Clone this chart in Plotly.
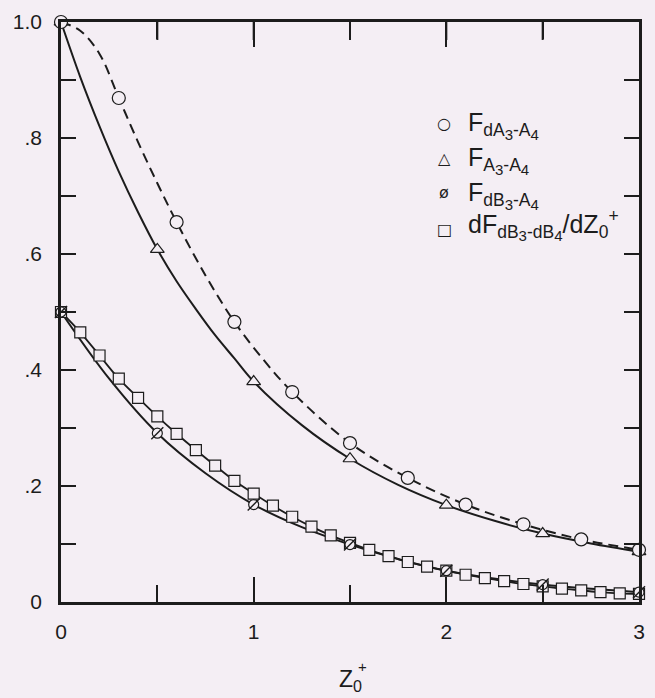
import plotly.graph_objects as go

# ---------------- data ----------------
# F_dA3-A4 (open circles, dashed curve)
circ_x = [0, 0.3, 0.6, 0.9, 1.2, 1.5, 1.8, 2.1, 2.4, 2.7, 3.0]
circ_y = [1.0, 0.869, 0.655, 0.483, 0.362, 0.274, 0.214, 0.168, 0.134, 0.108, 0.090]
dash_x = [0, 0.1, 0.2, 0.3, 0.4, 0.5, 0.6, 0.75, 0.9, 1.05, 1.2, 1.5, 1.8, 2.1, 2.4, 2.7, 3.0]
dash_y = [1.0, 0.985, 0.945, 0.869, 0.793, 0.722, 0.655, 0.563, 0.483, 0.418, 0.362,
          0.274, 0.214, 0.168, 0.134, 0.108, 0.090]

# F_A3-A4 (open triangles, upper solid curve)
tri_x = [0, 0.5, 1.0, 1.5, 2.0, 2.5, 3.0]
tri_y = [1.0, 0.608, 0.380, 0.247, 0.167, 0.118, 0.087]
up_x = [0, 0.1, 0.2, 0.3, 0.4, 0.5, 0.6, 0.7, 0.8, 0.9, 1.0, 1.25, 1.5, 1.75, 2.0, 2.25, 2.5, 2.75, 3.0]
up_y = [1.0, 0.905, 0.820, 0.742, 0.672, 0.608, 0.553, 0.505, 0.460, 0.420, 0.380,
        0.305, 0.247, 0.202, 0.167, 0.140, 0.118, 0.101, 0.087]

# F_dB3-A4 (slashed circles, lower solid curve)
phi_x = [0, 0.5, 1.0, 1.5, 2.0, 2.5, 3.0]
phi_y = [0.5, 0.291, 0.168, 0.099, 0.054, 0.030, 0.017]
low_x = [0, 0.25, 0.5, 0.75, 1.0, 1.25, 1.5, 1.75, 2.0, 2.5, 3.0]
low_y = [0.5, 0.385, 0.291, 0.222, 0.168, 0.129, 0.099, 0.074, 0.054, 0.030, 0.017]

# dF_dB3-dB4/dZ0+ (open squares)
sq_x = [round(0.1 * i, 1) for i in range(31)]
sq_y = [0.500, 0.465, 0.425, 0.385, 0.352, 0.320, 0.290, 0.262, 0.235, 0.209,
        0.187, 0.166, 0.147, 0.130, 0.115, 0.102, 0.090, 0.079, 0.069, 0.061,
        0.054, 0.047, 0.041, 0.036, 0.031, 0.027, 0.023, 0.020, 0.017, 0.015, 0.014]

y_tickvals = [0, 0.2, 0.4, 0.6, 0.8, 1.0]
y_ticktext = ["0", ".2", ".4", ".6", ".8", "1.0"]
x_tickvals = [0, 1, 2, 3]
x_ticktext = ["0", "1", "2", "3"]
top_tickvals = [0.5, 1.0, 1.5, 2.0, 2.5]

S = "<span style='font-size:15px'>{}</span>"
legend_labels = [
    ("○", "F<sub>dA<sub>" + S.format("3") + "</sub>-A<sub>" + S.format("4") + "</sub></sub>"),
    ("△", "F<sub>A<sub>" + S.format("3") + "</sub>-A<sub>" + S.format("4") + "</sub></sub>"),
    ("ø", "F<sub>dB<sub>" + S.format("3") + "</sub>-A<sub>" + S.format("4") + "</sub></sub>"),
    ("□", "dF<sub>dB<sub>" + S.format("3") + "</sub>-dB<sub>" + S.format("4") + "</sub></sub>/dZ<sub>0</sub><sup>+</sup>"),
]

# ---------------- styling ----------------
BG = "#f4eef4"
INK = "#1c1c1c"
FONT = "Liberation Sans, Arial, sans-serif"

fig = go.Figure()

# curves
fig.add_trace(go.Scatter(x=dash_x, y=dash_y, mode="lines", line_shape="spline",
                         line=dict(color=INK, width=2, dash="10px,6px"), showlegend=False))
fig.add_trace(go.Scatter(x=up_x, y=up_y, mode="lines", line_shape="spline",
                         line=dict(color=INK, width=2), showlegend=False))
fig.add_trace(go.Scatter(x=low_x, y=low_y, mode="lines", line_shape="spline",
                         line=dict(color=INK, width=2), showlegend=False))
fig.add_trace(go.Scatter(x=sq_x, y=sq_y, mode="lines", line_shape="spline",
                         line=dict(color=INK, width=1.8), showlegend=False))

# markers
mk_line = dict(color=INK, width=1.2)
fig.add_trace(go.Scatter(x=sq_x, y=sq_y, mode="markers", cliponaxis=False,
                         marker=dict(symbol="square", size=11, color=BG, line=mk_line),
                         showlegend=False))
fig.add_trace(go.Scatter(x=phi_x, y=phi_y, mode="markers", cliponaxis=False,
                         marker=dict(symbol="circle", size=10, color=BG, line=mk_line),
                         showlegend=False))
fig.add_trace(go.Scatter(x=phi_x, y=phi_y, mode="markers", cliponaxis=False,
                         marker=dict(symbol="line-ne", size=12, line=dict(color=INK, width=1.4)),
                         showlegend=False))
fig.add_trace(go.Scatter(x=tri_x, y=tri_y, mode="markers", cliponaxis=False,
                         marker=dict(symbol="triangle-up", size=12, color=BG, line=mk_line),
                         showlegend=False))
fig.add_trace(go.Scatter(x=circ_x, y=circ_y, mode="markers", cliponaxis=False,
                         marker=dict(symbol="circle", size=13, color=BG, line=mk_line),
                         showlegend=False))

# legend drawn as text (paper coordinates)
def px2paper_x(px):
    return (px - 61) / 584.0

def px2paper_y(py):
    return (602 - py) / 581.0

sym_py = [123, 158, 192, 229]
lab_top_py = [105, 140, 175, 203]
annotations = []
for (sym, lab), spy, lpy in zip(legend_labels, sym_py, lab_top_py):
    annotations.append(dict(x=px2paper_x(448), y=px2paper_y(spy), xref="paper", yref="paper",
                            text=sym, showarrow=False, xanchor="center", yanchor="middle",
                            font=dict(family="DejaVu Sans", size=16, color=INK)))
    annotations.append(dict(x=px2paper_x(470), y=px2paper_y(lpy), xref="paper", yref="paper",
                            text=lab, showarrow=False, xanchor="left", yanchor="top",
                            font=dict(family=FONT, size=25, color=INK)))

# axis title Z0+
annotations.append(dict(x=px2paper_x(353), y=px2paper_y(681), xref="paper", yref="paper",
                        text="Z<sub>0</sub>", showarrow=False, xanchor="center", yanchor="middle",
                        font=dict(family=FONT, size=23, color=INK)))
annotations.append(dict(x=px2paper_x(366), y=px2paper_y(667), xref="paper", yref="paper",
                        text="+", showarrow=False, xanchor="center", yanchor="middle",
                        font=dict(family=FONT, size=15, color=INK)))

# tick marks along the top frame, placed through the x scale
top_len = 18.0 / 581.0
shapes = [dict(type="line", xref="x", yref="paper", x0=v, x1=v, y0=1, y1=1 - top_len,
               line=dict(color=INK, width=2)) for v in top_tickvals]

axis_common = dict(showline=True, linecolor=INK, linewidth=2.5, mirror="ticks",
                   ticks="inside", tickcolor=INK, tickwidth=2, showgrid=False, zeroline=False,
                   tickfont=dict(family=FONT, size=21, color=INK))

fig.update_layout(
    width=655, height=698,
    margin=dict(l=61, r=10, t=21, b=96),
    paper_bgcolor=BG, plot_bgcolor=BG,
    annotations=annotations,
    shapes=shapes,
    xaxis=dict(range=[0, 3], tickvals=x_tickvals, ticktext=x_ticktext, ticklen=25,
               ticklabelstandoff=9,
               minor=dict(dtick=0.5, ticks="inside", ticklen=17, tickcolor=INK, tickwidth=2),
               **axis_common),
    yaxis=dict(range=[0, 1], tickvals=y_tickvals, ticktext=y_ticktext, ticklen=15,
               ticklabelstandoff=12,
               minor=dict(dtick=0.1, ticks="inside", ticklen=15, tickcolor=INK, tickwidth=2),
               **axis_common),
)

fig.write_html("out.html", config={"displayModeBar": False},
               post_script="document.body.style.margin='0';document.body.style.background='%s';" % BG)
